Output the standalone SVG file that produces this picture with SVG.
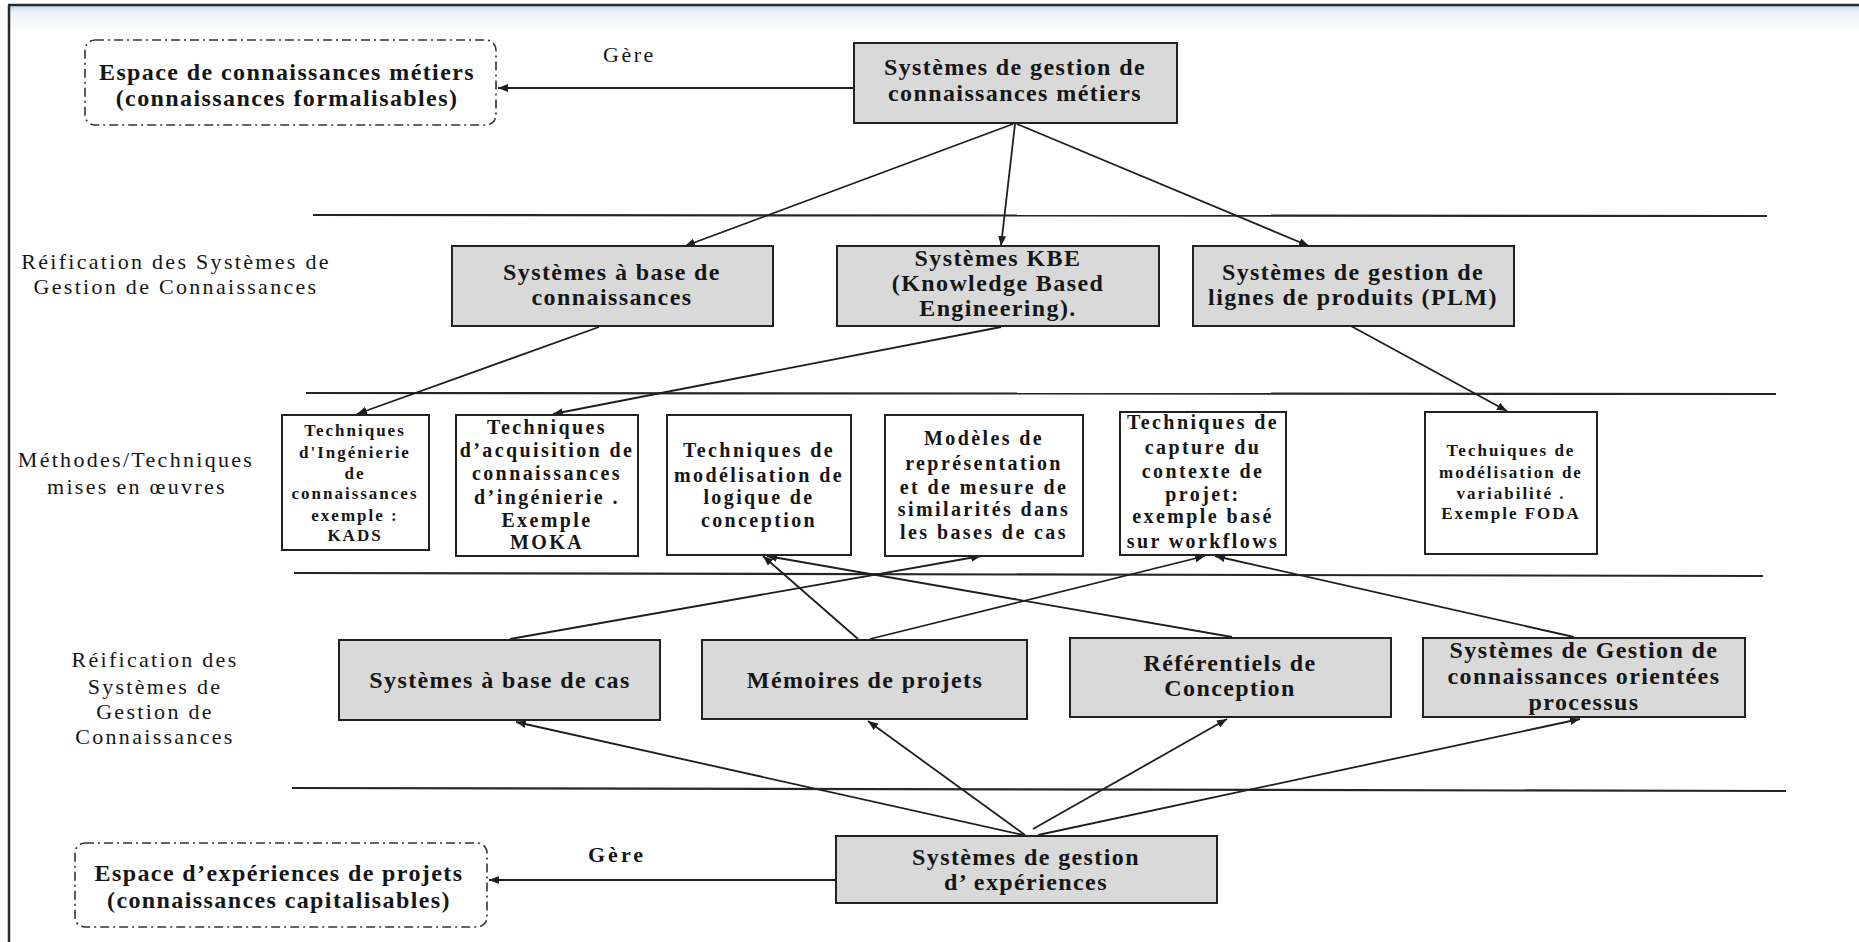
<svg xmlns="http://www.w3.org/2000/svg" width="1859" height="942" viewBox="0 0 1859 942">
  <defs>
    <linearGradient id="bandGrad" x1="0" y1="0" x2="0" y2="1">
      <stop offset="0" stop-color="#c9dbf1"/>
      <stop offset="0.25" stop-color="#eef3f8"/>
      <stop offset="1" stop-color="#ffffff"/>
    </linearGradient>
    <marker id="arrow" markerUnits="userSpaceOnUse" markerWidth="11" markerHeight="8" refX="10" refY="4" orient="auto">
      <path d="M0,0 L10,4 L0,8 z" fill="#1e1e1e"/>
    </marker>
    <style>
      .frame { stroke: #2a2a2a; stroke-width: 2.5; fill: none; }
      .sep { stroke: #262626; stroke-width: 2.2; fill: none; }
      .gray { fill: #d9d9d9; stroke: #222; stroke-width: 2; }
      .white { fill: #ffffff; stroke: #222; stroke-width: 2; }
      .dash { fill: #ffffff; stroke: #333; stroke-width: 1.6; stroke-dasharray: 9 4 2 4; }
      .conn { stroke: #1e1e1e; stroke-width: 1.8; fill: none; marker-end: url(#arrow); }
      text { font-family: "Liberation Serif", "Times New Roman", serif; fill: #161616; text-anchor: middle; }
      .big { font-size: 24px; font-weight: bold; letter-spacing: 1.4px; }
      .mid { font-size: 20px; font-weight: bold; letter-spacing: 2.4px; }
      .small { font-size: 17px; font-weight: bold; letter-spacing: 2px; }
      .label { font-size: 22px; letter-spacing: 2.3px; }
      .gere { font-size: 22px; letter-spacing: 2.5px; text-anchor: start; }
      .gereb { font-size: 22px; font-weight: bold; letter-spacing: 3px; text-anchor: start; }
    </style>
  </defs>

  <rect x="0" y="0" width="1859" height="942" fill="#ffffff"/>

  <!-- window frame -->
  <g id="frame">
    <rect x="9" y="6" width="1850" height="26" fill="url(#bandGrad)"/>
    <line class="frame" x1="8" y1="5" x2="1859" y2="5"/>
    <line class="frame" x1="9" y1="5" x2="9" y2="942"/>
  </g>

  <!-- horizontal level separators -->
  <g id="separators">
    <line class="sep" x1="313" y1="215" x2="1767" y2="216"/>
    <line class="sep" x1="306" y1="393" x2="1776" y2="394"/>
    <line class="sep" x1="294" y1="573" x2="1763" y2="576"/>
    <line class="sep" x1="292" y1="788" x2="1786" y2="791"/>
  </g>

  <!-- level labels -->
  <g id="labels">
    <text class="label" x="176" y="269">Réification des Systèmes de</text>
    <text class="label" x="176" y="294">Gestion de Connaissances</text>
    <text class="label" x="136" y="467">Méthodes/Techniques</text>
    <text class="label" x="137" y="494">mises en œuvres</text>
    <text class="label" x="155" y="667">Réification des</text>
    <text class="label" x="155" y="694">Systèmes de</text>
    <text class="label" x="155" y="719">Gestion de</text>
    <text class="label" x="155" y="744">Connaissances</text>
    <text class="gere" x="603" y="62">Gère</text>
    <text class="gereb" x="588" y="862">Gère</text>
  </g>

  <!-- connectors -->
  <g id="connectors">
    <line class="conn" x1="854" y1="88" x2="498" y2="88"/>
    <line class="conn" x1="836" y1="880" x2="489" y2="880"/>
    <line class="conn" x1="1013" y1="124" x2="685" y2="246"/>
    <line class="conn" x1="1015" y1="124" x2="1001" y2="246"/>
    <line class="conn" x1="1017" y1="124" x2="1309" y2="246"/>
    <line class="conn" x1="599" y1="327" x2="357" y2="414"/>
    <line class="conn" x1="1001" y1="327" x2="553" y2="414"/>
    <line class="conn" x1="1351" y1="326" x2="1507" y2="411"/>
    <line class="conn" x1="510" y1="639" x2="981" y2="556"/>
    <line class="conn" x1="858" y1="639" x2="763" y2="556"/>
    <line class="conn" x1="1232" y1="637" x2="767" y2="556"/>
    <line class="conn" x1="870" y1="639" x2="1205" y2="556"/>
    <line class="conn" x1="1574" y1="637" x2="1215" y2="556"/>
    <line class="conn" x1="1023" y1="835" x2="516" y2="722"/>
    <line class="conn" x1="1025" y1="835" x2="868" y2="721"/>
    <line class="conn" x1="1033" y1="829" x2="1227" y2="719"/>
    <line class="conn" x1="1038" y1="835" x2="1580" y2="719"/>
  </g>

  <!-- knowledge spaces -->
  <g id="espace-metiers">
    <rect class="dash" x="85" y="40" width="411" height="85" rx="10"/>
    <text class="big" x="287" y="80">Espace de connaissances métiers</text>
    <text class="big" x="287" y="106">(connaissances formalisables)</text>
  </g>
  <g id="espace-experiences">
    <rect class="dash" x="75" y="843" width="412" height="84" rx="10"/>
    <text class="big" x="279" y="881">Espace d’expériences de projets</text>
    <text class="big" x="279" y="908">(connaissances capitalisables)</text>
  </g>

  <!-- top manager -->
  <g id="sgc-metiers">
    <rect class="gray" x="854" y="43" width="323" height="80"/>
    <text class="big" x="1015" y="75">Systèmes de gestion de</text>
    <text class="big" x="1015" y="101">connaissances métiers</text>
  </g>

  <!-- first reification level -->
  <g id="sbc">
    <rect class="gray" x="452" y="246" width="321" height="80"/>
    <text class="big" x="612" y="280">Systèmes à base de</text>
    <text class="big" x="612" y="305">connaissances</text>
  </g>
  <g id="kbe">
    <rect class="gray" x="837" y="246" width="322" height="80"/>
    <text class="big" x="998" y="266">Systèmes KBE</text>
    <text class="big" x="998" y="291">(Knowledge Based</text>
    <text class="big" x="998" y="316">Engineering).</text>
  </g>
  <g id="plm">
    <rect class="gray" x="1193" y="246" width="321" height="80"/>
    <text class="big" x="1353" y="280">Systèmes de gestion de</text>
    <text class="big" x="1353" y="305">lignes de produits (PLM)</text>
  </g>

  <!-- methods and techniques -->
  <g id="kads">
    <rect class="white" x="282" y="415" width="147" height="135"/>
    <text class="small" x="355" y="436">Techniques</text>
    <text class="small" x="355" y="458">d'Ingénierie</text>
    <text class="small" x="355" y="479">de</text>
    <text class="small" x="355" y="499">connaissances</text>
    <text class="small" x="355" y="521">exemple :</text>
    <text class="small" x="355" y="541">KADS</text>
  </g>
  <g id="moka">
    <rect class="white" x="456" y="415" width="182" height="141"/>
    <text class="mid" x="547" y="434">Techniques</text>
    <text class="mid" x="547" y="457">d’acquisition de</text>
    <text class="mid" x="547" y="480">connaissances</text>
    <text class="mid" x="547" y="504">d’ingénierie .</text>
    <text class="mid" x="547" y="527">Exemple</text>
    <text class="mid" x="547" y="549">MOKA</text>
  </g>
  <g id="logique-conception">
    <rect class="white" x="667" y="415" width="184" height="140"/>
    <text class="mid" x="759" y="457">Techniques de</text>
    <text class="mid" x="759" y="482">modélisation de</text>
    <text class="mid" x="759" y="504">logique de</text>
    <text class="mid" x="759" y="527">conception</text>
  </g>
  <g id="similarites">
    <rect class="white" x="885" y="415" width="198" height="141"/>
    <text class="mid" x="984" y="445">Modèles de</text>
    <text class="mid" x="984" y="470">représentation</text>
    <text class="mid" x="984" y="494">et  de mesure de</text>
    <text class="mid" x="984" y="516">similarités dans</text>
    <text class="mid" x="984" y="539">les bases de cas</text>
  </g>
  <g id="contexte-projet">
    <rect class="white" x="1120" y="412" width="166" height="143"/>
    <text class="mid" x="1203" y="429">Techniques de</text>
    <text class="mid" x="1203" y="454">capture du</text>
    <text class="mid" x="1203" y="478">contexte de</text>
    <text class="mid" x="1203" y="501">projet:</text>
    <text class="mid" x="1203" y="523">exemple basé</text>
    <text class="mid" x="1203" y="548">sur workflows</text>
  </g>
  <g id="variabilite">
    <rect class="white" x="1425" y="412" width="172" height="142"/>
    <text class="small" x="1511" y="456">Techuiques  de</text>
    <text class="small" x="1511" y="478">modélisation de</text>
    <text class="small" x="1511" y="499">variabilité .</text>
    <text class="small" x="1511" y="519">Exemple FODA</text>
  </g>

  <!-- second reification level -->
  <g id="sbcas">
    <rect class="gray" x="339" y="640" width="321" height="80"/>
    <text class="big" x="500" y="688">Systèmes à base de cas</text>
  </g>
  <g id="memoires">
    <rect class="gray" x="702" y="640" width="325" height="79"/>
    <text class="big" x="865" y="688">Mémoires de projets</text>
  </g>
  <g id="referentiels">
    <rect class="gray" x="1070" y="638" width="321" height="79"/>
    <text class="big" x="1230" y="671">Référentiels de</text>
    <text class="big" x="1230" y="696">Conception</text>
  </g>
  <g id="sgc-processus">
    <rect class="gray" x="1423" y="638" width="322" height="79"/>
    <text class="big" x="1584" y="658">Systèmes de Gestion de</text>
    <text class="big" x="1584" y="684">connaissances orientées</text>
    <text class="big" x="1584" y="710">processus</text>
  </g>

  <!-- bottom manager -->
  <g id="sg-experiences">
    <rect class="gray" x="836" y="836" width="381" height="67"/>
    <text class="big" x="1026" y="865">Systèmes de gestion</text>
    <text class="big" x="1026" y="890">d’ expériences</text>
  </g>
</svg>
